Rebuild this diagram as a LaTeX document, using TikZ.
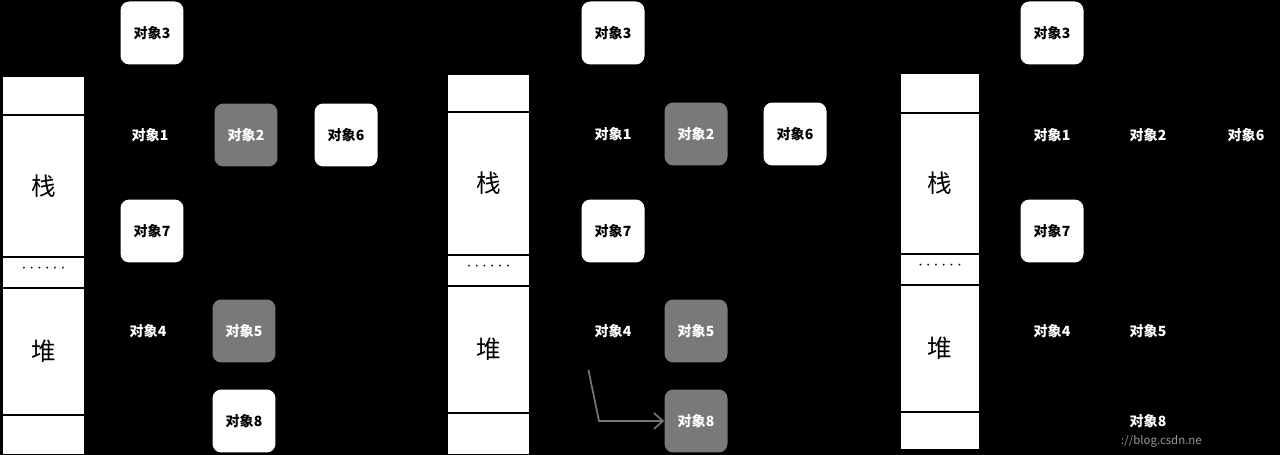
\documentclass[tikz,border=0pt]{standalone}
\usepackage{fontspec}
\setmainfont{Noto Sans CJK SC}
\usetikzlibrary{positioning, arrows.meta}

\begin{document}
\begin{tikzpicture}
% Style
[
    x=0.02cm, y=-0.02cm,
    obj/.style={shape=rectangle, rounded corners=5pt, minimum width=1.26cm, minimum height=1.26cm,
        align=center, font=\fontsize{8}{9}\selectfont\bfseries, inner sep=0pt},
    live/.style={obj, fill=white, text=black},
    dead/.style={obj, fill=gray!95!black, text=white},
    gone/.style={obj, text=white},
    cell/.style={draw=black, fill=white, line width=0.6pt},
    bigc/.style={font=\fontsize{14}{16}\selectfont}
]
\fill[black] (0,0) rectangle (1280,455);
\useasboundingbox (0,0) rectangle (1280,455);

%=================================== Stacks ===================================
\foreach \p/\xa/\xb/\ya/\yb/\yc/\yd/\ye/\yf in {
    a/2/85/76/115/257/288/415/455,
    b/447/530/74/112/255/286/413/455,
    c/900/980/73/113/254/285/412/450} {
    \draw[cell] (\xa,\ya) rectangle (\xb,\yb);
    \draw[cell] (\xa,\yb) rectangle node[bigc] (zhan-\p) {栈} (\xb,\yc);
    \draw[cell] (\xa,\yc) rectangle node[yshift=2pt] (dots-\p) {$\cdots\cdots$} (\xb,\yd);
    \draw[cell] (\xa,\yd) rectangle node[bigc] (dui-\p) {堆} (\xb,\ye);
    \draw[cell] (\xa,\ye) rectangle (\xb,\yf);
}

%=================================== Objects ===================================
\foreach \n/\s/\x/\y in {
    3/live/152/33, 1/gone/150/135, 2/dead/246/135, 6/live/346/135,
    7/live/152/231, 4/gone/148/331, 5/dead/244/331, 8/live/244/421} {
    \node[\s] (a-\n) at (\x,\y) {对象\n};
}
\foreach \n/\s/\x/\y in {
    3/live/613/33, 1/gone/613/134, 2/dead/696/134, 6/live/795/134,
    7/live/613/231, 4/gone/613/331, 5/dead/696/331, 8/dead/696/421} {
    \node[\s] (b-\n) at (\x,\y) {对象\n};
}
\foreach \n/\s/\x/\y in {
    3/live/1052/33, 1/gone/1052/135, 2/gone/1148/135, 6/gone/1246/135,
    7/live/1052/231, 4/gone/1052/331, 5/gone/1148/331, 8/gone/1148/421} {
    \node[\s] (c-\n) at (\x,\y) {对象\n};
}

% moved object
\coordinate (turn) at (599,421);
\draw[gray!90!black, line width=1pt, -{Straight Barb[length=5pt,width=9pt]}]
    ([xshift=-14pt, yshift=-4pt]b-4.south) -- (turn) -- (b-8.west);

\node[text=gray!80, font=\fontsize{6.5}{7}\selectfont, anchor=west] (mark) at (1115,441) {://blog.csdn.ne};
\end{tikzpicture}
\end{document}
